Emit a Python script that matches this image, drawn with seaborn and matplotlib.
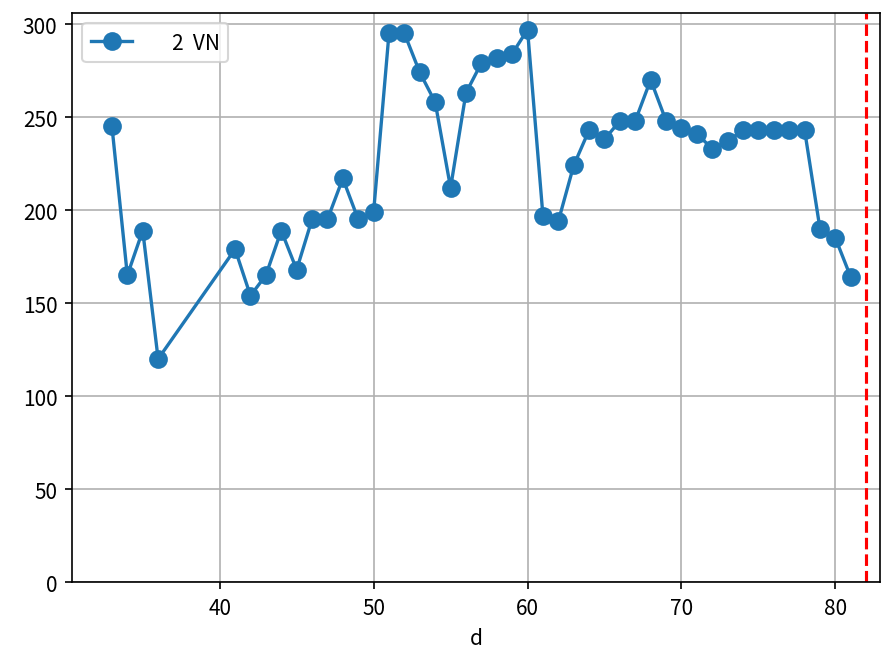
import pandas as pd
import matplotlib
matplotlib.use('Agg')
import matplotlib.pyplot as plt
import seaborn as sns

plt.rcParams['font.family'] = ['Noto Sans CJK JP', 'DejaVu Sans']

d = [33, 34, 35, 36, 41, 42, 43, 44, 45, 46, 47, 48, 49, 50, 51, 52, 53, 54, 55, 56,
     57, 58, 59, 60, 61, 62, 63, 64, 65, 66, 67, 68, 69, 70, 71, 72, 73, 74, 75, 76,
     77, 78, 79, 80, 81]
vn2 = [245, 165, 189, 120, 179, 154, 165, 189, 168, 195, 195, 217, 195, 199, 295, 295, 274, 258, 212, 263,
       279, 282, 284, 297, 197, 194, 224, 243, 238, 248, 248, 270, 248, 244, 241, 233, 237, 243, 243, 243,
       243, 243, 190, 185, 164]
cutoff = 82

df = pd.DataFrame({'d': d, 'value': vn2})

fig, ax = plt.subplots(figsize=(5.92, 4.393), dpi=150)
sns.lineplot(data=df, x='d', y='value', marker='o', markersize=9, markeredgewidth=0,
             linewidth=1.6, color='#1f77b4', label='     2  VN', ax=ax)
ax.axvline(cutoff, color='red', linestyle='--', linewidth=1.5)
ax.set_xlim(30.4, 82.9)
ax.set_ylim(0, 306)
ax.set_xlabel('d')
ax.set_ylabel('')
ax.grid(True)
ax.legend(loc='upper left')
plt.subplots_adjust(left=0.081, right=0.991, top=0.979, bottom=0.115)
plt.savefig('out.png')
